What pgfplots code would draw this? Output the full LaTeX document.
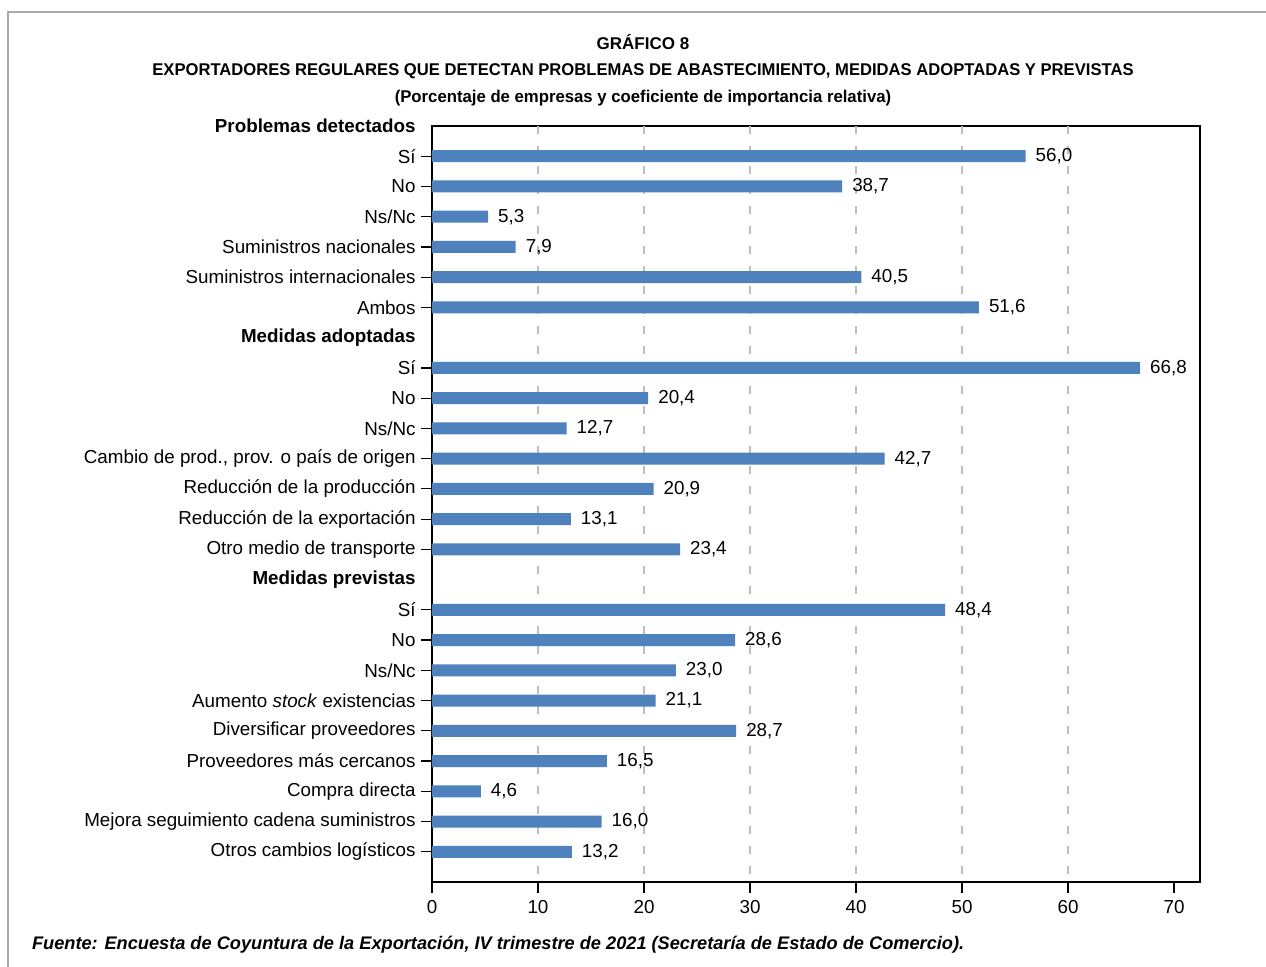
\documentclass[border=0pt]{standalone}
\usepackage{pgfplots}
\pgfplotsset{compat=1.18}
\usepackage{fontspec}
\setmainfont{Liberation Sans}
\definecolor{barblue}{RGB}{79,129,189}
\definecolor{gridgray}{RGB}{190,190,190}
\definecolor{framegray}{RGB}{170,170,170}
\begin{document}
\begin{tikzpicture}
\useasboundingbox (0,0) rectangle (633pt,-483.5pt);
\draw[framegray, line width=0.7pt] (4pt,-483.5pt) -- (4pt,-6pt) -- (633pt,-6pt);
\node[font=\bfseries\fontsize{8.5}{10}\selectfont] at (321.5pt,-21pt) {GRÁFICO 8};
\node[font=\bfseries\fontsize{8.5}{10}\selectfont] at (321.5pt,-35.5pt) {\scalebox{0.977}[1]{EXPORTADORES REGULARES QUE DETECTAN PROBLEMAS DE ABASTECIMIENTO, MEDIDAS ADOPTADAS Y PREVISTAS}};
\node[font=\bfseries\fontsize{8.5}{10}\selectfont] at (321.5pt,-49pt) {\scalebox{0.984}[1]{(Porcentaje de empresas y coeficiente de importancia relativa)}};
\node[anchor=west, font=\bfseries\itshape\fontsize{9.1}{10}\selectfont] at (12.5pt,-472.5pt) {Fuente: Encuesta de Coyuntura de la Exportación, IV trimestre de 2021 (Secretaría de Estado de Comercio).};
\begin{axis}[
  at={(216pt,-441pt)}, anchor=south west,
  width=384pt, height=378pt, scale only axis,
  xmin=0, xmax=72.45, ymin=0, ymax=25, y dir=reverse,
  xbar, bar width=6pt,
  axis line style={black, line width=0.6pt},
  tick align=outside, xtick pos=bottom, ytick pos=left,
  major tick length=5.5pt,
  tick style={black, line width=0.6pt},
  xtick={0,10,...,70},
  ytick={1,2,3,4,5,6,8,9,10,11,12,13,14,16,17,18,19,20,21,22,23,24},
  yticklabels={Sí,No,Ns/Nc,Suministros nacionales,Suministros internacionales,Ambos,
    Sí,No,Ns/Nc,{Cambio de prod., prov. o país de origen},Reducción de la producción,Reducción de la exportación,Otro medio de transporte,
    Sí,No,Ns/Nc,{Aumento \textit{stock} existencias},Diversificar proveedores,Proveedores más cercanos,Compra directa,Mejora seguimiento cadena suministros,Otros cambios logísticos},
  extra y ticks={0,7,15},
  extra y tick labels={\textbf{Problemas detectados},\textbf{Medidas adoptadas},\textbf{Medidas previstas}},
  extra y tick style={tick style={draw=none}},
  extra x ticks={10,20,30,40,50,60},
  extra x tick style={grid=major, major grid style={gridgray, line width=0.75pt, dash pattern=on 4pt off 6pt}, tick style={draw=none}, xticklabel={}},
  tick label style={font=\fontsize{9.4}{10}\selectfont},
  yticklabel style={xshift=0.8pt},
  /pgf/number format/assume math mode=true,
  point meta=x,
  nodes near coords={\pgfmathprintnumber[fixed, fixed zerofill, precision=1, use comma]{\pgfplotspointmeta}},
  nodes near coords style={font=\fontsize{9.4}{10}\selectfont, anchor=west, xshift=1.5pt},
]
\addplot[fill=barblue, draw=none] table[x=v, y=p] {
p v
1 56.0
2 38.7
3 5.3
4 7.9
5 40.5
6 51.6
8 66.8
9 20.4
10 12.7
11 42.7
12 20.9
13 13.1
14 23.4
16 48.4
17 28.6
18 23.0
19 21.1
20 28.7
21 16.5
22 4.6
23 16.0
24 13.2
};
\end{axis}
\end{tikzpicture}
\end{document}
